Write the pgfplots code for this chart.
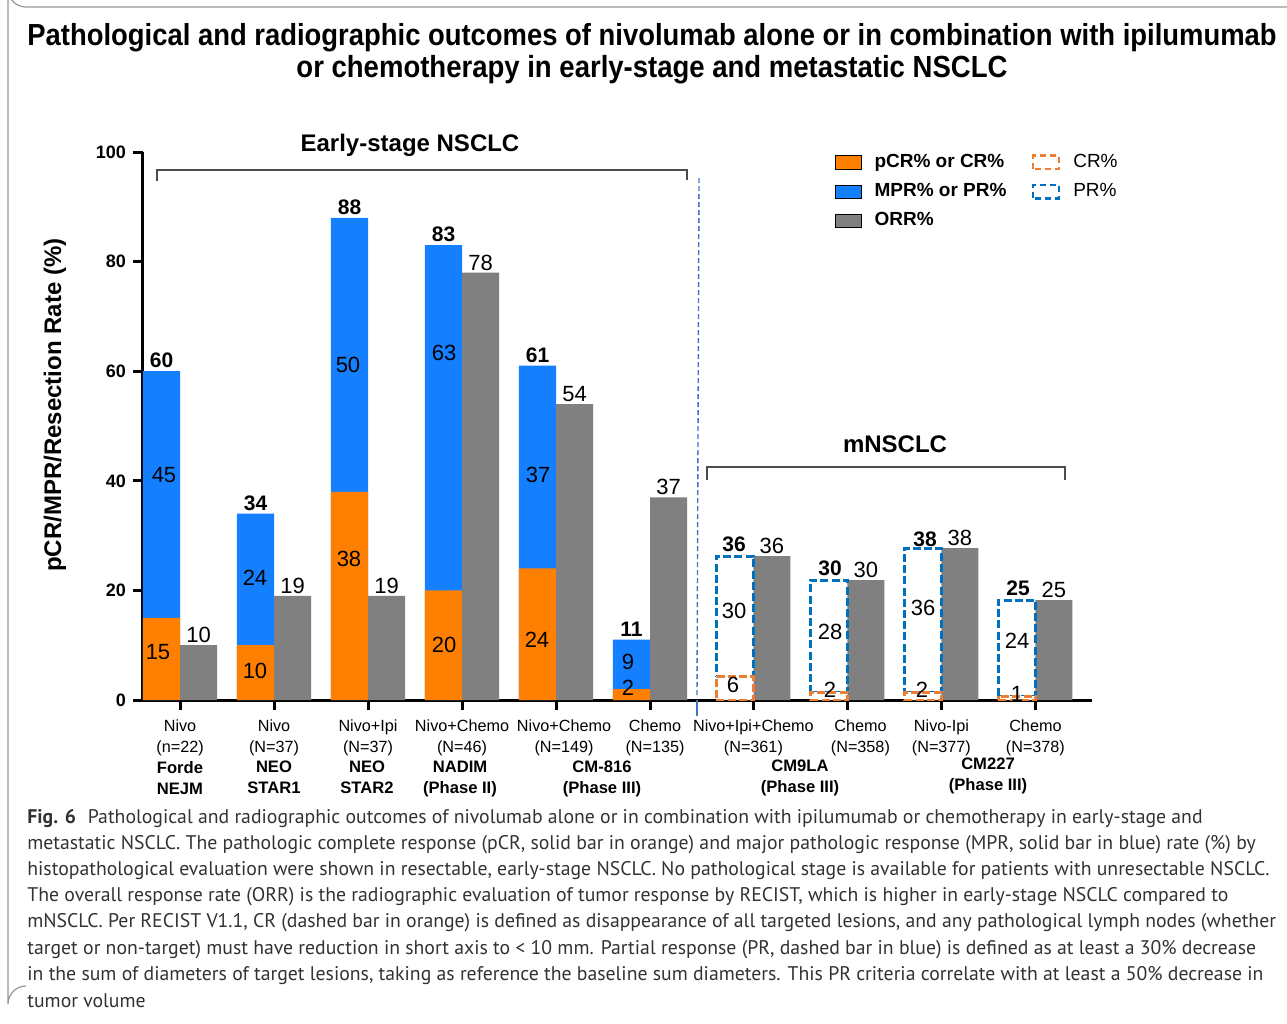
\documentclass[border=0pt]{standalone}
\usepackage{fontspec}
\setmainfont{Liberation Sans}
\newfontfamily\capfont{PT Sans}
\newfontfamily\titlefont{Liberation Sans}[FakeStretch=0.9]
\usepackage{graphicx}
\usepackage{pgfplots}
\pgfplotsset{compat=1.18}
\usepackage{pgfplotstable}

\definecolor{pcr}{RGB}{255,128,0}
\definecolor{mpr}{RGB}{20,128,255}
\definecolor{orr}{RGB}{128,128,128}
\definecolor{crd}{RGB}{237,125,49}
\definecolor{prd}{RGB}{0,112,192}
\definecolor{sepc}{RGB}{68,114,196}
\definecolor{framec}{RGB}{150,150,150}
\definecolor{capc}{RGB}{50,50,50}

% early-stage NSCLC: pCR, MPR (stacked), ORR
\pgfplotstableread{
x pcr mpr orr
0 15 45 10
1 10 24 19
2 38 50 19
3 20 63 78
4 24 37 54
5 2 9 37
}\early

% mNSCLC: CR, PR (dashed, stacked), ORR
\pgfplotstableread{
x cr pr orr
6.1 6 30 36
7.1 2 28 30
8.1 2 36 38
9.1 1 24 25
}\meta

\tikzset{
  lab/.style={font=\fontsize{11}{12}\selectfont},
  blab/.style={font=\bfseries\fontsize{10.5}{12}\selectfont},
  dashbar/.style={line width=1.5pt, dash pattern=on 4pt off 1.6pt},
}
\pgfplotsset{
  base/.style={
    at={(71.5pt,-350pt)}, anchor=south west,
    scale only axis, width=474.5pt, height=274pt,
    xmin=-0.394, xmax=9.702, ymin=0,
    enlargelimits=false,
    /pgf/number format/assume math mode=true,
  },
}

\begin{document}
\begin{tikzpicture}
\useasboundingbox (0pt,0pt) rectangle (643.5pt,-512pt);

\begin{axis}[base, ymax=100,
  axis x line=bottom, axis y line=left,
  axis line style={-, line width=1.5pt, black},
  ytick={0,20,40,60,80,100},
  xtick={0,1,2,3,4,5,6.1,7.1,8.1,9.1},
  xticklabels={{Nivo\\(n=22)},{Nivo\\(N=37)},{Nivo+Ipi\\(N=37)},{Nivo+Chemo\\(N=46)},
    {\hspace*{8pt}Nivo+Chemo\\\hspace*{8pt}(N=149)},{\hspace*{5pt}Chemo\\\hspace*{5pt}(N=135)},
    {Nivo+Ipi+Chemo\\(N=361)},{\hspace*{13pt}Chemo\\\hspace*{13pt}(N=358)},{Nivo-Ipi\\(N=377)},{Chemo\\(N=378)}},
  xticklabel style={align=center, font=\fontsize{8.1}{10.5}\selectfont, yshift=-1.5pt},
  yticklabel style={font=\bfseries\fontsize{9}{10}\selectfont},
  tick align=outside, major tick length=5pt,
  tick style={line width=1.5pt, black},
  ylabel={\bfseries pCR/MPR/Resection Rate (\%)},
  ylabel style={at={(axis description cs:-0.0927,0.538)}, anchor=center, font=\fontsize{12}{14}\selectfont},
  legend columns=2, legend cell align=left,
  legend image code/.code={\draw[#1] (0pt,-3.3pt) rectangle (13pt,3.3pt);},
  legend style={draw=none, fill=none, inner sep=0pt,
    at={(axis description cs:0.7285,1.004)}, anchor=north west,
    font=\fontsize{9.5}{11}\selectfont, row sep=2.5pt,
    /tikz/every odd column/.append style={column sep=4.5pt},
    /tikz/every even column/.append style={column sep=10.5pt}},
]
\addplot[ybar, forget plot, bar width=0.394, bar shift=-0.197, fill=mpr, draw=none,
  nodes near coords, nodes near coords style={blab, xshift=-9.26pt, yshift=-2pt}]
  table[x=x, y expr=\thisrow{pcr}+\thisrow{mpr}] {\early};
\addplot[ybar, forget plot, bar width=0.394, bar shift=-0.197, fill=pcr, draw=none]
  table[x=x, y=pcr] {\early};
\addplot[ybar, forget plot, bar width=0.394, bar shift=0.197, fill=orr, draw=none,
  nodes near coords, nodes near coords style={lab, xshift=9.26pt, yshift=-2.5pt}]
  table[x=x, y=orr] {\early};

\addlegendimage{fill=pcr, draw=none}
\addlegendentry{\bfseries pCR\% or CR\%}
\addlegendimage{draw=crd, line width=1.4pt, dash pattern=on 3pt off 2pt, fill=none}
\addlegendentry{CR\%}
\addlegendimage{fill=mpr, draw=none}
\addlegendentry{\bfseries MPR\% or PR\%}
\addlegendimage{draw=prd, line width=1.4pt, dash pattern=on 3pt off 2pt, fill=none}
\addlegendentry{PR\%}
\addlegendimage{fill=orr, draw=none}
\addlegendentry{\bfseries ORR\%}
\end{axis}

% mNSCLC panel, drawn on its own y scale
\begin{axis}[base, ymax=137, hide axis]
\addplot[ybar, bar width=0.394, bar shift=0.197, fill=orr, draw=none,
  nodes near coords, nodes near coords style={lab, xshift=9.26pt, yshift=-2.5pt}]
  table[x=x, y=orr] {\meta};
\end{axis}

\begin{axis}[base, ymax=137, hide axis, ybar stacked, bar width=0.394, bar shift=-0.197]
\addplot[fill=white, draw=crd, dashbar]
  table[x=x, y=cr] {\meta};
\addplot[fill=none, draw=prd, dashbar]
  table[x=x, y=pr] {\meta};
\end{axis}

\begin{scope}[x=0.5pt, y=-0.5pt]
% frame
\draw[framec, line width=0.6pt] (1287,7) -- (26,7) arc[start angle=90, end angle=180, radius=18] -- (8,1004) arc[start angle=180, end angle=270, radius=18];
% title
\node[anchor=base] at (652,45) {\resizebox{624.5pt}{!}{\titlefont\bfseries Pathological and radiographic outcomes of nivolumab alone or in combination with ipilumumab}};
\node[anchor=base] at (652,77) {\resizebox{355.5pt}{!}{\titlefont\bfseries or chemotherapy in early-stage and metastatic NSCLC}};
% brackets
\draw[black!70, line width=0.6pt] (157,181) -- (157,170) -- (687,170) -- (687,180);
\node[font=\bfseries\fontsize{12}{14}\selectfont] at (410,145) {Early-stage NSCLC};
\draw[black!70, line width=0.6pt] (707,480) -- (707,467) -- (1065,467) -- (1065,480);
\node[font=\bfseries\fontsize{12}{14}\selectfont] at (895,444) {mNSCLC};
% separator
\draw[sepc, line width=0.7pt, dash pattern=on 2.5pt off 1.5pt] (699,178) -- (697,698);
\draw[sepc, line width=1pt] (697,700) -- (697,716);
% study names
\begin{scope}[every node/.style={anchor=north, align=center, font=\bfseries\fontsize{8.3}{10.5}\selectfont}]
\node at (180,754) {Forde\\NEJM};
\node at (274,754) {NEO\\STAR1};
\node at (367,754) {NEO\\STAR2};
\node at (460,754) {NADIM\\(Phase II)};
\node at (602,754) {CM-816\\(Phase III)};
\node at (800,753) {CM9LA\\(Phase III)};
\node at (988,751) {CM227\\(Phase III)};
\end{scope}
% totals above the dashed mNSCLC bars
\begin{scope}[every node/.style={blab, inner sep=0pt}]
\node at (734,544) {36};
\node at (830,568) {30};
\node at (925,539) {38};
\node at (1018,588) {25};
\end{scope}
% values inside the bars
\begin{scope}[every node/.style={lab, inner sep=0pt}]
\node at (158,652) {15}; \node at (164,475) {45};
\node at (255,671) {10}; \node at (255,578) {24};
\node at (349,559) {38}; \node at (348,365) {50};
\node at (444,645) {20}; \node at (444,353) {63};
\node at (537,640) {24}; \node at (538,475) {37};
\node at (628,688) {2};  \node at (628,662) {9};
\node at (733,685) {6};  \node at (734,611) {30};
\node at (830,690) {2};  \node at (830,632) {28};
\node at (922,690) {2};  \node at (923,608) {36};
\node at (1017,694) {1}; \node at (1017,641) {24};
\end{scope}
% caption
\begin{scope}[every node/.style={anchor=base west, inner sep=0pt, text=capc, font=\capfont\fontsize{9.87}{13}\selectfont}]
\node at (27,823) {\textbf{Fig. 6}\hspace{0.6em}Pathological and radiographic outcomes of nivolumab alone or in combination with ipilumumab or chemotherapy in early-stage and};
\node at (27,849) {metastatic NSCLC. The pathologic complete response (pCR, solid bar in orange) and major pathologic response (MPR, solid bar in blue) rate (\%) by};
\node at (27,875) {histopathological evaluation were shown in resectable, early-stage NSCLC. No pathological stage is available for patients with unresectable NSCLC.};
\node at (27,901) {The overall response rate (ORR) is the radiographic evaluation of tumor response by RECIST, which is higher in early-stage NSCLC compared to};
\node at (27,927) {mNSCLC. Per RECIST V1.1, CR (dashed bar in orange) is defined as disappearance of all targeted lesions, and any pathological lymph nodes (whether};
\node at (27,954) {target or non-target) must have reduction in short axis to < 10 mm. Partial response (PR, dashed bar in blue) is defined as at least a 30\% decrease};
\node at (27,980) {in the sum of diameters of target lesions, taking as reference the baseline sum diameters. This PR criteria correlate with at least a 50\% decrease in};
\node at (27,1007) {tumor volume};
\end{scope}
\end{scope}
\end{tikzpicture}
\end{document}
